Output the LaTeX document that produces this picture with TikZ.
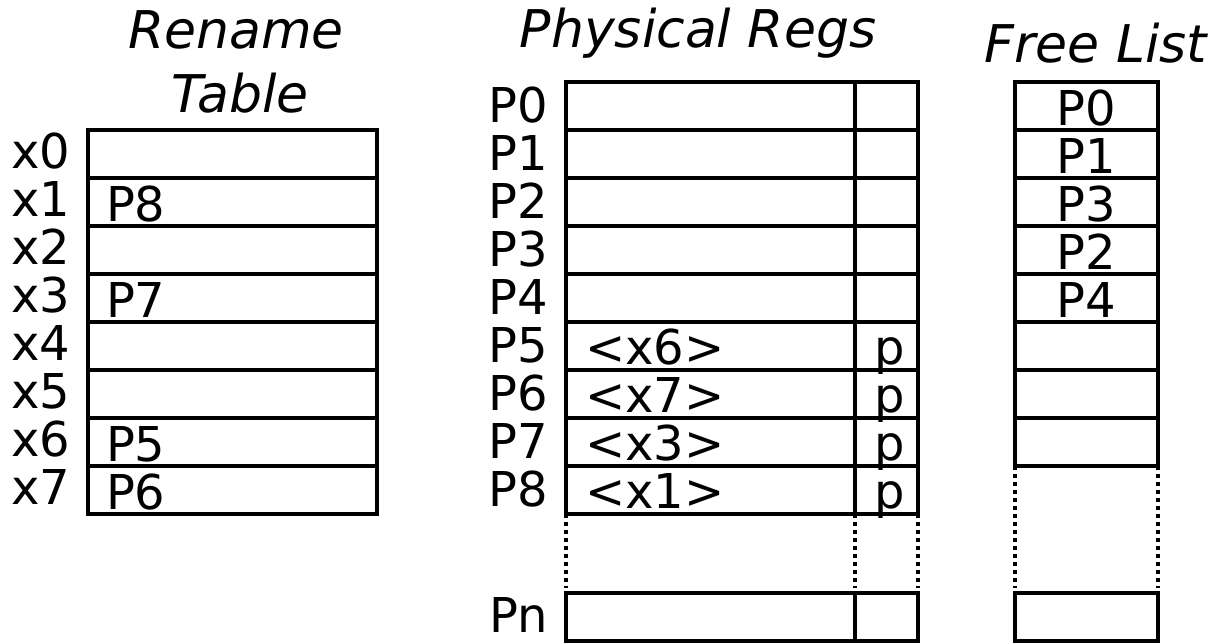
\documentclass[tikz,border=0pt]{standalone}
\usepackage{fontspec}
\setmainfont{DejaVu Sans}
\begin{document}
\begin{tikzpicture}[x=1pt, y=-1pt,
  every node/.style={inner sep=0pt, outer sep=0pt, font=\fontsize{48}{56}\selectfont},
  cell/.style={draw, line width=3.4pt, rectangle, anchor=north west, minimum height=48pt},
  title/.style={anchor=base, font=\fontsize{52}{62}\selectfont\itshape},
  rowlbl/.style={anchor=base east},
  celltxt/.style={anchor=base west},
  dotline/.style={line width=3.4pt, dash pattern=on 4pt off 4pt}
]
\useasboundingbox (0,0) rectangle (1216,643);

% titles
\node[title] (tRen) at (236,48) {Rename};
\node[title] (tTab) at (240,112) {Table};
\node[title] (tPhy) at (698,47) {Physical Regs};
\node[title] (tFree) at (1096,62) {Free List};

% rename table
\foreach \i/\t in {0/,1/P8,2/,3/P7,4/,5/,6/P5,7/P6} {
  \node[cell, minimum width=289pt] (rt\i) at (88,{130+48*\i}) {};
  \node[rowlbl, xshift=-18pt, yshift=10pt] (rtl\i) at (rt\i.south west) {x\i};
  \node[celltxt, xshift=18pt, yshift=5pt] (rtv\i) at (rt\i.south west) {\t};
}

% physical register file: value column and tag column
\foreach \i/\t/\f in {0//,1//,2//,3//,4//,5/<x6>/p,6/<x7>/p,7/<x3>/p,8/<x1>/p} {
  \node[cell, minimum width=289pt] (pr\i) at (566,{82+48*\i}) {};
  \node[cell, minimum width=63pt] (pf\i) at (855,{82+48*\i}) {};
  \node[rowlbl, xshift=-18pt, yshift=8pt] (prl\i) at (pr\i.south west) {P\i};
  \node[celltxt, xshift=19pt, yshift=6pt] (prv\i) at (pr\i.south west) {\t};
  \node[anchor=base, xshift=3pt, yshift=6pt] (pfv\i) at (pf\i.south) {\f};
}
\node[cell, minimum width=289pt] (prn) at (566,593) {};
\node[cell, minimum width=63pt] (pfn) at (855,593) {};
\node[rowlbl, xshift=-18pt, yshift=9pt] (prln) at (prn.south west) {Pn};

\draw[dotline, shorten >=5pt] (pr8.south west) -- (prn.north west);
\draw[dotline, shorten >=5pt] (pr8.south east) -- (prn.north east);
\draw[dotline, shorten >=5pt] (pf8.south east) -- (pfn.north east);

% free list
\foreach \i/\t in {0/P0,1/P1,2/P3,3/P2,4/P4,5/,6/,7/} {
  \node[cell, minimum width=143pt] (fl\i) at (1015,{82+48*\i}) {};
  \node[anchor=base, yshift=5pt] (flv\i) at (fl\i.south) {\t};
}
\node[cell, minimum width=143pt] (fln) at (1015,593) {};
\draw[dotline, shorten >=5pt] (fl7.south west) -- (fln.north west);
\draw[dotline, shorten >=5pt] (fl7.south east) -- (fln.north east);
\end{tikzpicture}
\end{document}
